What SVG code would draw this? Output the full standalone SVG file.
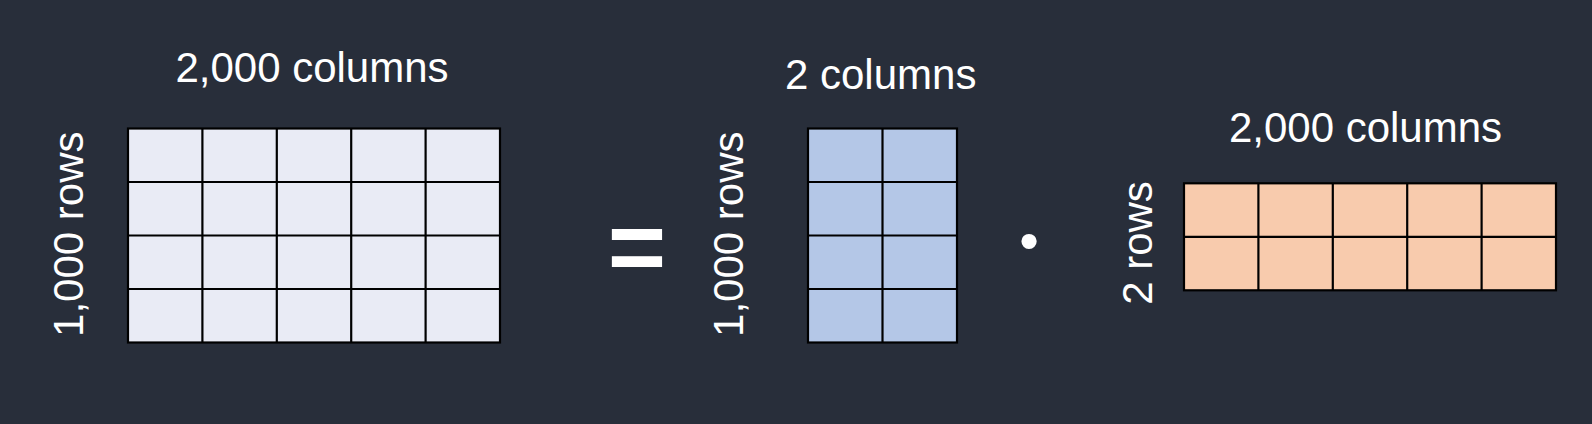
<svg xmlns="http://www.w3.org/2000/svg" width="1592" height="424" viewBox="0 0 1592 424">
<style>
.lbl{font-family:"Liberation Sans",Arial,sans-serif;font-size:42px;fill:#ffffff;text-anchor:middle}
.op{font-family:"Liberation Sans",Arial,sans-serif;fill:#ffffff;text-anchor:middle}
.grid line,.grid rect{stroke:#000000;stroke-width:2.2}
.g1 rect{fill:#e9ebf5}
.g2 rect{fill:#b4c7e7}
.g3 rect{fill:#f8cbad}
</style>
<rect x="0" y="0" width="1592" height="424" fill="#282e3a"/>
<g id="matrix-result" class="grid g1">
<rect x="128" y="128.5" width="372" height="214"/>
<line x1="202.4" y1="128.5" x2="202.4" y2="342.5"/>
<line x1="276.8" y1="128.5" x2="276.8" y2="342.5"/>
<line x1="351.2" y1="128.5" x2="351.2" y2="342.5"/>
<line x1="425.6" y1="128.5" x2="425.6" y2="342.5"/>
<line x1="128" y1="182" x2="500" y2="182"/>
<line x1="128" y1="235.5" x2="500" y2="235.5"/>
<line x1="128" y1="289" x2="500" y2="289"/>
<text class="lbl" x="312" y="81.7">2,000 columns</text>
<text class="lbl" transform="translate(83,234.2) rotate(-90)">1,000 rows</text>
</g>
<g id="equals">
<text class="op" x="637" y="281" style="font-size:100px;font-weight:bold">=</text>
</g>
<g id="matrix-left" class="grid g2">
<rect x="808" y="128.5" width="149" height="214"/>
<line x1="882.5" y1="128.5" x2="882.5" y2="342.5"/>
<line x1="808" y1="182" x2="957" y2="182"/>
<line x1="808" y1="235.5" x2="957" y2="235.5"/>
<line x1="808" y1="289" x2="957" y2="289"/>
<text class="lbl" x="880.7" y="89">2 columns</text>
<text class="lbl" transform="translate(743,234.2) rotate(-90)">1,000 rows</text>
</g>
<g id="dot">
<text class="op" x="1029" y="260" style="font-size:56px">•</text>
</g>
<g id="matrix-right" class="grid g3">
<rect x="1184" y="183.3" width="372" height="107"/>
<line x1="1258.4" y1="183.3" x2="1258.4" y2="290.3"/>
<line x1="1332.8" y1="183.3" x2="1332.8" y2="290.3"/>
<line x1="1407.2" y1="183.3" x2="1407.2" y2="290.3"/>
<line x1="1481.6" y1="183.3" x2="1481.6" y2="290.3"/>
<line x1="1184" y1="236.8" x2="1556" y2="236.8"/>
<text class="lbl" x="1365.5" y="141.7">2,000 columns</text>
<text class="lbl" transform="translate(1151.5,243) rotate(-90)">2 rows</text>
</g>
<g id="connectors"/>
</svg>
